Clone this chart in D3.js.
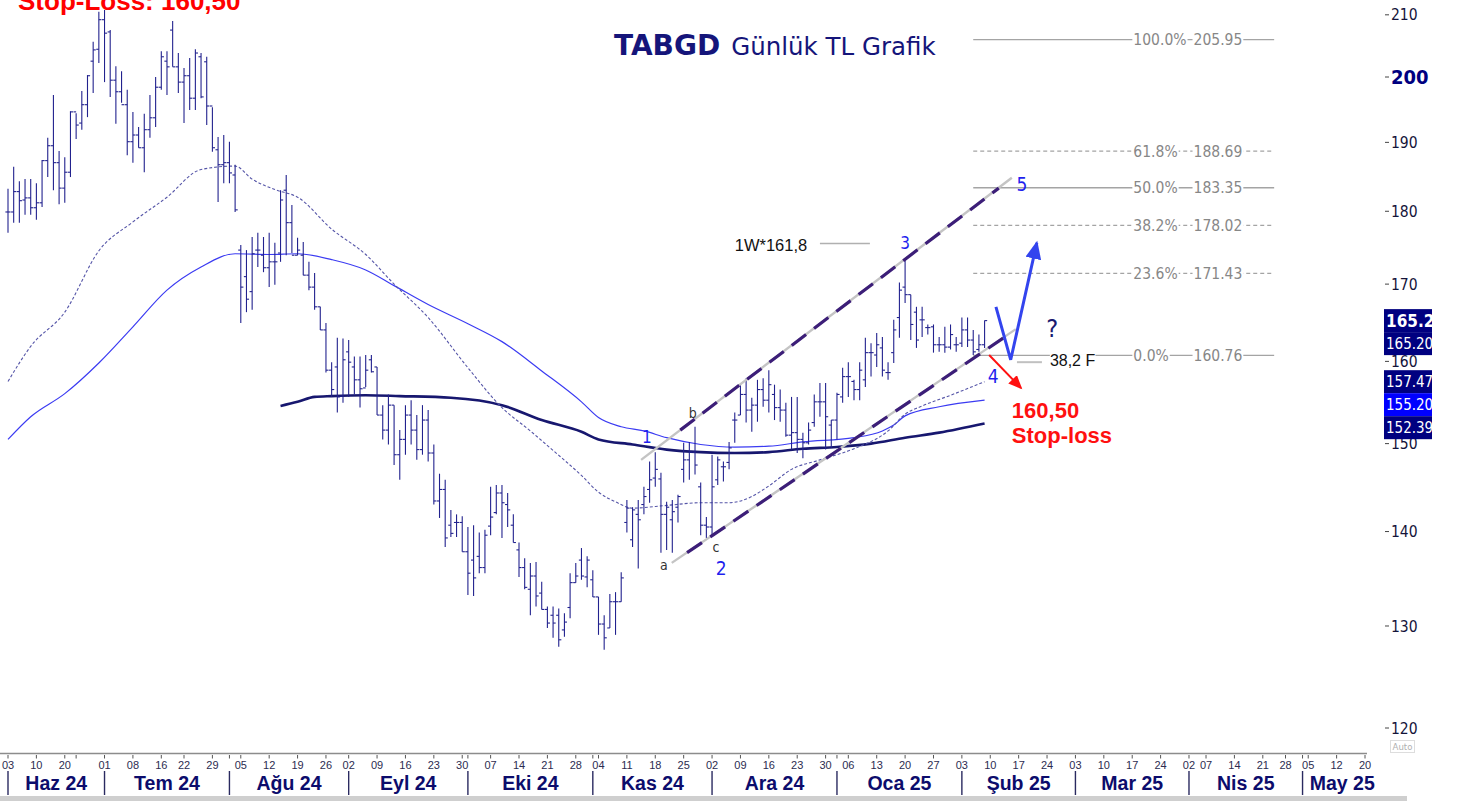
<!DOCTYPE html>
<html><head><meta charset="utf-8">
<script src="https://cdn.jsdelivr.net/npm/d3@7"></script>
<style>body{margin:0;background:#fff;overflow:hidden}svg{display:block}</style>
</head><body>
<svg id="c" width="1459" height="801"></svg>
<script>
// ---------- DATA ----------
// daily OHLC, trading-day index 0 = 03 Haz 2024
const highs = [183.2,186.4,184.3,184.6,184.6,184.0,187.4,190.7,197.2,188.7,
187.8,194.7,194.4,197.8,200.3,205.6,210.5,210.8,207.5,201.7,
200.9,198.0,194.6,192.3,194.3,197.2,200.0,204.1,204.1,209.0,
203.8,201.4,203.0,204.4,203.8,203.2,195.3,190.8,191.1,190.1,
186.7,175.3,174.6,176.4,177.0,176.4,177.0,175.6,183.0,185.2,
180.9,176.3,175.7,173.0,171.5,167.0,164.9,159.9,163.0,162.9,
162.7,160.6,160.6,160.8,160.8,159.3,154.6,155.9,154.6,151.6,
154.6,155.2,153.4,154.6,154.0,149.9,146.5,145.8,142.4,141.9,
141.7,140.5,140.7,139.9,140.2,145.0,145.2,145.2,144.3,141.9,
138.8,137.1,136.6,136.7,134.6,132.0,132.0,131.8,131.3,135.5,
136.6,138.2,137.3,135.8,133.0,131.1,133.3,133.5,135.6,143.5,
142.7,143.5,145.0,147.9,149.0,146.6,143.3,143.5,144.1,150.1,
150.2,152.0,145.5,141.6,148.7,148.5,147.9,150.2,153.7,157.1,
157.9,155.5,157.7,157.9,158.9,157.1,156.5,154.9,155.6,155.6,
151.3,152.5,155.9,157.3,157.3,152.8,156.1,159.2,159.9,157.7,
159.9,163.0,162.3,163.6,163.1,159.9,165.3,170.2,173.3,168.6,
167.0,167.0,164.7,164.7,163.1,164.4,164.7,163.1,165.6,165.6,
164.0,163.4,165.2];
const lows = [177.0,178.4,178.4,179.5,179.5,178.8,180.6,184.9,183.0,181.0,
181.2,184.9,190.5,191.9,193.8,197.5,202.2,199.2,196.9,192.8,
196.0,188.1,187.0,189.2,185.6,190.7,192.3,198.0,197.2,201.6,
197.5,192.9,194.9,194.9,196.7,192.6,188.6,181.3,184.0,184.0,
179.9,164.9,166.3,166.6,172.3,171.6,169.6,169.9,173.0,173.9,
174.2,173.9,171.2,169.2,166.6,164.0,158.6,155.6,153.7,154.9,
155.6,155.9,154.3,156.8,158.6,153.4,150.5,149.9,147.5,145.8,
148.7,149.9,148.1,148.7,147.9,143.0,141.5,138.3,139.4,139.4,
137.8,133.2,133.1,135.5,135.5,139.6,141.9,139.3,140.5,138.8,
135.1,133.8,131.1,132.0,131.7,129.8,128.8,127.9,128.9,130.8,
134.5,134.8,134.0,133.0,129.1,127.6,129.8,129.1,132.5,139.9,
138.3,136.0,141.9,143.2,145.0,137.7,138.0,137.7,141.0,145.5,
145.8,146.4,139.6,139.3,139.4,145.2,145.6,147.0,150.1,153.4,
152.5,151.4,152.6,154.4,153.7,152.8,152.6,150.8,149.3,148.9,
148.3,149.9,152.0,153.2,149.3,149.5,150.5,154.9,155.6,155.2,
155.2,156.8,158.1,159.3,158.1,157.7,159.8,163.0,167.5,162.7,
161.7,163.1,163.4,161.1,161.2,161.1,161.5,161.2,161.8,161.8,
160.8,161.2,161.7];
const opens = [179.9,179.9,182.8,181.6,181.9,180.5,181.2,187.3,189.5,187.0,
183.3,185.6,194.6,192.9,195.7,202.5,204.4,209.2,207.2,199.5,
197.7,195.7,190.1,191.1,189.2,191.9,193.7,198.4,202.5,207.5,
201.6,199.2,200.2,196.7,203.2,202.4,195.5,188.9,186.7,187.0,
185.2,174.6,171.0,169.0,174.6,173.9,172.2,173.0,174.2,183.0,
178.4,173.9,173.9,171.2,169.6,167.0,164.0,158.9,159.3,155.7,
161.2,159.3,157.7,156.7,160.2,159.3,153.4,151.6,154.6,148.7,
150.5,153.4,151.6,149.3,152.8,148.9,143.4,144.7,140.7,141.0,
141.0,137.8,136.9,137.3,136.1,140.6,142.1,144.3,143.0,140.7,
138.0,136.1,133.8,135.2,133.4,131.7,131.1,131.1,129.6,131.9,
134.5,136.9,135.1,134.8,133.0,130.2,129.8,132.5,132.5,141.0,
139.1,141.9,143.0,144.7,146.0,145.9,141.9,141.3,142.7,147.0,
148.1,149.0,145.0,140.7,140.5,145.8,147.3,147.8,152.8,153.4,
155.9,154.0,154.6,156.5,155.2,155.9,154.3,154.0,151.0,151.3,
150.5,150.1,152.5,155.0,155.0,152.2,152.8,155.6,158.1,157.5,
156.5,157.7,161.1,160.8,161.7,158.6,161.1,165.6,169.6,168.6,
166.3,165.3,164.3,164.4,162.1,162.1,161.8,162.1,162.3,164.0,
162.7,161.5,162.1];
const closes = [179.9,182.8,181.5,181.9,180.5,181.2,187.3,189.5,187.0,183.3,
185.6,194.6,192.6,195.7,200.2,204.3,209.2,207.0,199.5,197.7,
195.7,190.1,191.1,189.2,191.9,193.7,198.4,203.2,201.6,201.6,
199.2,200.2,196.7,203.8,196.9,195.5,189.2,186.7,187.0,185.5,
180.2,169.6,168.0,174.1,174.6,172.2,173.0,173.0,181.6,178.4,
173.9,174.6,171.2,169.6,167.0,164.0,158.9,156.5,155.6,160.2,
159.9,157.7,156.6,158.9,158.7,153.4,151.6,154.6,148.7,150.5,
153.4,151.6,149.3,152.8,148.9,143.4,144.7,139.3,139.8,141.0,
137.8,135.5,135.0,136.1,139.6,141.6,144.3,143.2,142.4,138.8,
136.1,134.0,135.2,133.1,131.7,130.3,130.3,128.6,130.4,134.5,
135.2,135.2,136.9,133.0,130.2,128.8,132.5,132.5,135.0,142.6,
142.4,141.3,143.9,145.8,147.0,141.9,142.7,142.2,143.9,148.1,
149.0,147.5,140.7,140.5,145.0,148.1,147.3,149.5,152.8,155.9,
154.0,154.6,156.5,155.2,157.1,154.3,154.0,151.0,151.3,150.5,
150.1,151.6,155.0,155.0,153.2,152.8,155.9,158.1,158.1,156.5,
158.9,161.1,161.1,162.1,158.9,158.6,164.0,169.2,168.6,164.7,
162.7,165.3,164.3,162.1,162.1,161.8,163.4,162.1,164.0,162.7,
161.2,162.1,165.2];

// moving averages [trading-day index, value]
const maShort = [[0,157.5],[4,161.9],[10,166.3],[16,174.5],[22,178.5],[28,182.0],[34,186.0],[40,186.5],[43,184.6],[47,183.1],[51,182.0],[57,177.5],[63,174.0],[68,170.0],[74,165.6],[81,159.2],[87,154.3],[92,151.5],[96,149.2],[101,146.3],[104,144.4],[107,143.3],[110,142.6],[116,142.9],[122,143.2],[127,143.2],[131,143.9],[134,145.1],[138,147.0],[143,148.1],[149,149.4],[155,151.5],[158,153.5],[161,154.5],[166,155.8],[172,157.47]];
const maMid = [[0,150.5],[4,153.2],[10,156.0],[16,159.8],[22,164.4],[28,169.2],[34,172.3],[40,174.1],[46,174.0],[51,174.1],[57,173.3],[63,171.9],[68,169.8],[74,167.3],[81,164.8],[87,162.5],[94,158.8],[101,155.0],[104,153.1],[108,152.0],[112,151.5],[116,150.7],[122,149.9],[128,149.6],[134,149.7],[140,150.2],[149,150.7],[154,151.5],[156,152.2],[158,153.3],[164,154.4],[172,155.2]];
const maLong = [[48,154.5],[51,155.0],[54,155.6],[57,155.7],[63,155.8],[69,155.7],[78,155.5],[87,154.6],[94,152.8],[101,151.4],[104,150.5],[110,149.9],[116,149.3],[122,149.0],[128,148.9],[134,149.0],[140,149.4],[146,149.6],[152,150.0],[158,150.7],[164,151.3],[172,152.39]];

// fibonacci levels
const fibPct = ["100.0%","61.8%","50.0%","38.2%","23.6%","0.0%"];
const fibVal = [205.95,188.69,183.35,178.02,171.43,160.76];
const fibDash = [false,true,false,true,true,false];

// right axis
const yTicks = [120,130,140,150,160,170,180,190,200,210];
// price tags
const tagVals = [165.20,165.20,157.47,155.20,152.39];
const tagFill = ["#000080","#000080","#000080","#0000ff","#000080"];

// time axis
const dayTicks = [[0,"03"],[5,"10"],[10,"20"],[12,""],[17,"01"],[22,"08"],[27,"16"],[31,"22"],[36,"29"],[39,""],[41,"05"],[46,"12"],[51,"19"],[56,"26"],[60,"02"],[65,"09"],[70,"16"],[75,"23"],[80,"30"],[81,""],[85,"07"],[90,"14"],[95,"21"],[100,"28"],[103,""],[104,"04"],[109,"11"],[114,"18"],[119,"25"],[124,"02"],[129,"09"],[134,"16"],[139,"23"],[144,"30"],[146,""],[148,"06"],[153,"13"],[158,"20"],[163,"27"],[168,"03"],[173,"10"],[178,"17"],[183,"24"],[188,"03"],[193,"10"],[198,"17"],[203,"24"],[208,"02"],[211,"07"],[216,"14"],[221,"21"],[225,"28"],[228,""],[229,"05"],[234,"12"],[239,"20"]];
const monthStart = [0,17,39,60,81,103,124,146,168,188,208,228,242];
const monthNames = ["Haz 24","Tem 24","Ağu 24","Eyl 24","Eki 24","Kas 24","Ara 24","Oca 25","Şub 25","Mar 25","Nis 25","May 25"];

// annotations (index, price)
const chanGray = [[111.5,148.1,176.8,184.8],[116.9,136.6,177.5,164.1]];
const chanDash = [[118.4,151.6,174.5,183.3],[119.6,137.7,175.6,163.1]];
const waveLbl = [["1",112.5,150.8,17],["2",125.6,136.0,19],["3",158.0,175.6,17],["4",173.5,158.2,19],["5",178.6,183.9,19]];
const abcLbl = [["a",115.5,136.3],["b",120.6,153.5],["c",124.7,138.2]];
const blueArrow = [[174.0,167.0],[176.6,160.2],[181.2,175.6]];
const redArrow = [[172.8,160.8],[178.4,156.7]];

// ---------- SCALES ----------
const svg = d3.select("#c");
const x = d3.scaleLinear().domain([0,239]).range([8,1365]);
const y = d3.scaleLog().domain([120,200]).range([728,77]);
const FC = "'DejaVu Sans Condensed','DejaVu Sans',sans-serif";
const FA = "'Liberation Sans',Arial,sans-serif";

const defs = svg.append("defs");
defs.append("marker").attr("id","ab").attr("markerUnits","userSpaceOnUse")
 .attr("markerWidth",20).attr("markerHeight",20).attr("refX",16).attr("refY",8).attr("orient","auto")
 .append("path").attr("d","M0,0 L18,8 L0,16 Z").attr("fill","#3344ee");
defs.append("marker").attr("id","ar").attr("markerUnits","userSpaceOnUse")
 .attr("markerWidth",16).attr("markerHeight",16).attr("refX",12).attr("refY",6).attr("orient","auto")
 .append("path").attr("d","M0,0 L14,6 L0,12 Z").attr("fill","#ff1010");
defs.append("clipPath").attr("id","tagclip").append("rect").attr("x",1384).attr("y",0).attr("width",48).attr("height",801);

// ---------- FIB LEVELS ----------
const gF = svg.append("g");
fibVal.forEach((v,k)=>{
  const yy = y(v);
  gF.append("line").attr("x1",x(170)).attr("x2",x(223)).attr("y1",yy).attr("y2",yy)
    .attr("stroke","#a4a4a4").attr("stroke-width",1.3).attr("stroke-dasharray",fibDash[k]?"4,3":null);
  [[fibPct[k],x(198.2)],[v.toFixed(2),x(208.8)]].forEach(([t,xx])=>{
    const tx = gF.append("text").attr("x",xx).attr("y",yy).attr("dy","0.35em")
      .attr("font-family",FC).attr("font-stretch","condensed").attr("font-size",15.5).attr("fill","#878787").text(t);
    const bb = tx.node().getBBox();
    gF.insert("rect",()=>tx.node()).attr("x",bb.x-1).attr("y",yy-3).attr("width",bb.width+2).attr("height",6).attr("fill","#fff");
  });
});

// ---------- MOVING AVERAGES ----------
const line = d3.line().x(d=>x(d[0])).y(d=>y(d[1])).curve(d3.curveMonotoneX);
svg.append("path").attr("d",line(maLong)).attr("fill","none").attr("stroke","#17176f").attr("stroke-width",2.6);
svg.append("path").attr("d",line(maMid)).attr("fill","none").attr("stroke","#3b3bf2").attr("stroke-width",1.2);
svg.append("path").attr("d",line(maShort)).attr("fill","none").attr("stroke","#5656a8").attr("stroke-width",1.1).attr("stroke-dasharray","3,2");

// ---------- OHLC BARS ----------
const idx = d3.range(highs.length);
const gB = svg.append("g").attr("stroke","#22228e").attr("stroke-width",1.1);
gB.selectAll("line.hl").data(idx).join("line").attr("class","hl")
  .attr("x1",i=>x(i)).attr("x2",i=>x(i)).attr("y1",i=>y(highs[i])).attr("y2",i=>y(lows[i]));
gB.selectAll("line.o").data(idx).join("line").attr("class","o")
  .attr("x1",i=>x(i)-2.6).attr("x2",i=>x(i)).attr("y1",i=>y(opens[i])).attr("y2",i=>y(opens[i]));
gB.selectAll("line.c").data(idx).join("line").attr("class","c")
  .attr("x1",i=>x(i)).attr("x2",i=>x(i)+2.6).attr("y1",i=>y(closes[i])).attr("y2",i=>y(closes[i]));

// ---------- CHANNEL ----------
chanGray.forEach(c=>svg.append("line").attr("x1",x(c[0])).attr("y1",y(c[1])).attr("x2",x(c[2])).attr("y2",y(c[3]))
  .attr("stroke","#c4c4c4").attr("stroke-width",2.4));
chanDash.forEach(c=>svg.append("line").attr("x1",x(c[0])).attr("y1",y(c[1])).attr("x2",x(c[2])).attr("y2",y(c[3]))
  .attr("stroke","#3c1e78").attr("stroke-width",3.2).attr("stroke-dasharray","18,10"));

// ---------- ANNOTATIONS ----------
waveLbl.forEach(([t,i,v,fs])=>svg.append("text").attr("x",x(i)).attr("y",y(v)).attr("dy","0.36em")
  .attr("text-anchor","middle").attr("font-family",FC).attr("font-stretch","condensed").attr("font-size",fs).attr("fill","#1f1fee").text(t));
abcLbl.forEach(([t,i,v])=>svg.append("text").attr("x",x(i)).attr("y",y(v)).attr("dy","0.3em")
  .attr("text-anchor","middle").attr("font-family",FC).attr("font-size",14).attr("fill","#333").text(t));
svg.append("text").attr("x",x(183.9)).attr("y",y(164.3)).attr("dy","0.36em").attr("text-anchor","middle")
  .attr("font-family",FC).attr("font-size",25).attr("fill","#1a1a70").text("?");

// 1W*161,8
svg.append("text").attr("x",x(128.0)).attr("y",y(174.5)).attr("font-family",FA).attr("font-size",16.5).attr("fill","#111").text("1W*161,8");
svg.append("line").attr("x1",x(143.0)).attr("x2",x(151.8)).attr("y1",y(175.5)).attr("y2",y(175.5)).attr("stroke","#b0b0b0").attr("stroke-width",1.5);
// 38,2 F
svg.append("line").attr("x1",x(177.7)).attr("x2",x(182.1)).attr("y1",y(159.9)).attr("y2",y(159.9)).attr("stroke","#c0c0c0").attr("stroke-width",2);
const t38 = svg.append("text").attr("x",x(183.5)).attr("y",y(159.4)).attr("font-family",FA).attr("font-size",16).attr("fill","#111").text("38,2 F");
const b38 = t38.node().getBBox();
svg.insert("rect",()=>t38.node()).attr("x",b38.x).attr("y",b38.y+2).attr("width",b38.width).attr("height",b38.height-4).attr("fill","#fff");

// arrows
svg.append("path").attr("d",d3.line().x(d=>x(d[0])).y(d=>y(d[1]))(blueArrow)).attr("fill","none")
  .attr("stroke","#3344ee").attr("stroke-width",3).attr("stroke-linejoin","miter").attr("marker-end","url(#ab)");
svg.append("path").attr("d",d3.line().x(d=>x(d[0])).y(d=>y(d[1]))(redArrow)).attr("fill","none")
  .attr("stroke","#ff1010").attr("stroke-width",2).attr("marker-end","url(#ar)");
svg.append("text").attr("x",x(176.8)).attr("y",y(153.1)).attr("font-family",FA).attr("font-weight","bold").attr("font-size",22).attr("fill","#ff1010").text("160,50");
svg.append("text").attr("x",x(176.8)).attr("y",y(150.1)).attr("font-family",FA).attr("font-weight","bold").attr("font-size",22).attr("fill","#ff1010").text("Stop-loss");

// title
const title = svg.append("text").attr("x",614).attr("y",55).attr("fill","#15157a").attr("font-family","'DejaVu Sans',sans-serif");
title.append("tspan").attr("font-weight","bold").attr("font-size",28).text("TABGD");
title.append("tspan").attr("font-size",24.5).attr("dx",11).text("Günlük TL Grafik");
svg.append("text").attr("x",18).attr("y",10).attr("font-family",FA).attr("font-weight","bold").attr("font-size",26).attr("fill","#ff0000").text("Stop-Loss: 160,50");

// ---------- RIGHT AXIS ----------
const gY = svg.append("g");
yTicks.forEach(v=>{
  const yy = y(v);
  gY.append("line").attr("x1",1385).attr("x2",1389).attr("y1",yy).attr("y2",yy).attr("stroke","#444").attr("stroke-width",1);
  const b = v===200;
  gY.append("text").attr("x",1391).attr("y",yy).attr("dy","0.36em").attr("font-family",FC).attr("font-stretch","condensed")
    .attr("font-size",b?20:15.5).attr("font-weight",b?"bold":"normal").attr("fill",b?"#000080":"#14143a").text(v);
});
// price tags (stacked)
let prevBottom = -1e9;
const gT = svg.append("g").attr("clip-path","url(#tagclip)");
tagVals.forEach((v,k)=>{
  const hT = 23;
  let top = y(v) - hT/2;
  if (top < prevBottom) top = prevBottom;
  prevBottom = top + hT;
  gT.append("rect").attr("x",1384).attr("y",top).attr("width",48).attr("height",hT).attr("fill",tagFill[k]);
  gT.append("text").attr("x",1386).attr("y",top+hT/2).attr("dy","0.36em").attr("font-family",FC).attr("font-stretch","condensed")
    .attr("font-size",k===0?17:15).attr("font-weight",k===0?"bold":"normal").attr("fill","#fff").text(v.toFixed(2));
});
svg.append("rect").attr("x",1390.5).attr("y",740.5).attr("width",24).attr("height",12).attr("fill","#fff").attr("stroke","#ddd");
svg.append("text").attr("x",1402.5).attr("y",747).attr("dy","0.35em").attr("text-anchor","middle").attr("font-family",FC).attr("font-size",9.5).attr("fill","#b0b0b0").text("Auto");

// ---------- TIME AXIS ----------
const gX = svg.append("g");
gX.append("line").attr("x1",0).attr("x2",1367).attr("y1",753.5).attr("y2",753.5).attr("stroke","#8c8c8c").attr("stroke-width",1.5);
dayTicks.forEach(([i,t])=>{
  gX.append("line").attr("x1",x(i)).attr("x2",x(i)).attr("y1",755).attr("y2",758.5).attr("stroke","#555").attr("stroke-width",1);
  if(t) gX.append("text").attr("x",x(i)).attr("y",765).attr("dy","0.35em").attr("text-anchor","middle")
    .attr("font-family","'Liberation Sans Narrow','Liberation Sans',sans-serif").attr("font-size",11).attr("fill","#2c2c50").text(t);
});
monthStart.slice(0,-1).forEach((s,k)=>{
  const x0 = x(s), x1 = x(monthStart[k+1]);
  gX.append("line").attr("x1",x0).attr("x2",x0).attr("y1",771).attr("y2",795).attr("stroke","#2a2a60").attr("stroke-width",1.4);
  gX.append("text").attr("x",(x0+x1)/2).attr("y",790).attr("text-anchor","middle").attr("font-family",FA)
    .attr("font-weight","bold").attr("font-size",19.5).attr("fill","#0c0c6c").text(monthNames[k]);
});
svg.append("rect").attr("x",0).attr("y",796).attr("width",1407).attr("height",5).attr("fill","#cfcfcf");
</script>
</body></html>
